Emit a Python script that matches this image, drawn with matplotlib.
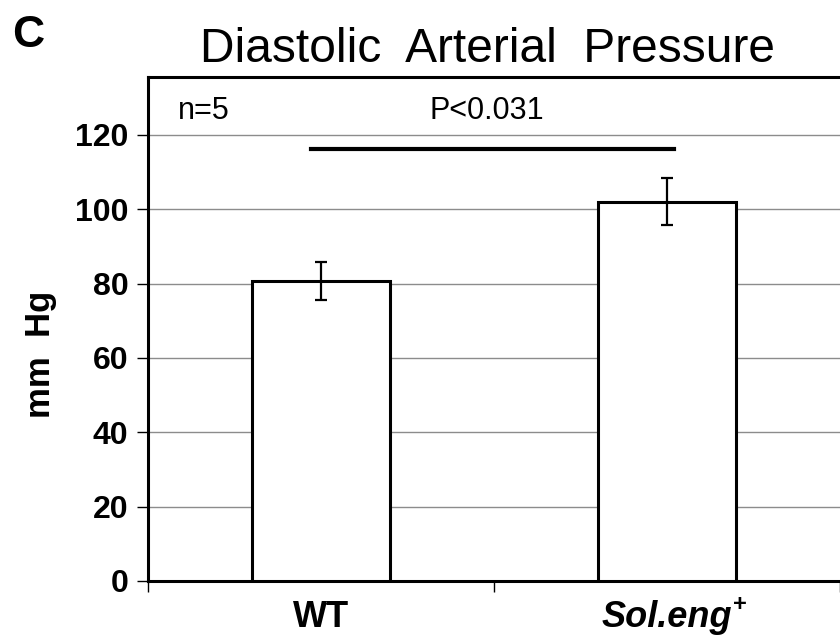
import matplotlib
matplotlib.use('Agg')
import matplotlib.pyplot as plt

plt.rcParams['font.family'] = ['Liberation Sans', 'DejaVu Sans']

# datos
groups = ['WT', 'Sol.eng']
means = [80.8, 102.1]
errors = [5.1, 6.2]
y_ticks = [0, 20, 40, 60, 80, 100, 120]
p_text = 'P<0.031'
n_text = 'n=5'
sig_y = 116.2

fig = plt.figure(figsize=(8.4, 6.36), dpi=100)
ax = fig.add_axes([148 / 840, 1 - 581 / 636, 692 / 840, 504 / 636])

x = list(range(len(groups)))
ax.bar(x, means, width=0.4, color='white', edgecolor='black', linewidth=2.2, zorder=3)
ax.errorbar(x, means, yerr=errors, fmt='none', ecolor='black', elinewidth=1.6,
            capsize=4, capthick=1.6, zorder=4)

ax.set_xlim(-0.5, 1.5)
ax.set_ylim(0, 135.6)
ax.set_yticks(y_ticks)
ax.set_yticklabels([str(v) for v in y_ticks], fontsize=23, fontweight='bold')
ax.yaxis.grid(True, color='#8c8c8c', linewidth=1.0, zorder=0)
ax.set_axisbelow(True)

# etiquetas de categorias en el centro, marcas en los limites
ax.set_xticks(x)
ax.set_xticklabels(groups, fontsize=26, fontweight='bold')
ax.get_xticklabels()[1].set_style('italic')
ax.tick_params(axis='x', which='major', length=0, pad=14)
ax.set_xticks([-0.5, 0.5, 1.5], minor=True)
ax.tick_params(axis='x', which='minor', length=8, width=1.0, direction='out')
ax.tick_params(axis='y', length=8, width=1.0, direction='out', pad=6)

for s in ['left', 'bottom', 'top']:
    ax.spines[s].set_linewidth(2.2)
ax.spines['right'].set_visible(False)

ax.set_ylabel('mm  Hg', fontsize=25, fontweight='bold')
ax.yaxis.set_label_coords(-0.131, 0.45)

# linea de significancia
ax.plot([-0.03, 1.02], [sig_y, sig_y], color='black', linewidth=3, zorder=5)
ax.text(0.48, 122.5, p_text, fontsize=22, ha='center', va='bottom')
ax.text(-0.413, 122.5, n_text, fontsize=22, ha='left', va='bottom')

fig.text(487 / 840, 1 - 62 / 636, 'Diastolic  Arterial  Pressure', fontsize=34.5,
         ha='center', va='baseline')
fig.text(12 / 840, 1 - 47 / 636, 'C', fontsize=32, fontweight='bold', va='baseline')

# superindice "+" junto a Sol.eng
fig.canvas.draw()
bb = ax.get_xticklabels()[1].get_window_extent()
fig.text((bb.x1 + 1) / 840, (bb.y1 - 16) / 636, '+', fontsize=17, fontweight='bold',
         ha='left', va='bottom')

plt.savefig('out.png', dpi=100)
